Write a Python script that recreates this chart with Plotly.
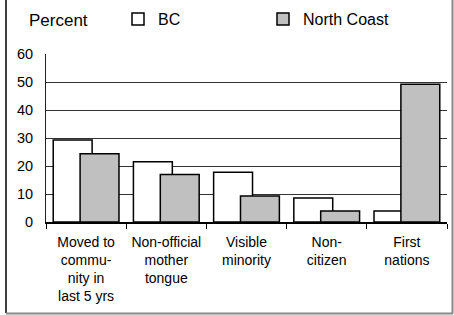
import plotly.graph_objects as go

categories = ["Moved to<br>commu-<br>nity in<br>last 5 yrs",
              "Non-official<br>mother<br>tongue",
              "Visible<br>minority",
              "Non-<br>citizen",
              "First<br>nations"]
bc_values = [29.3, 21.5, 17.8, 8.6, 3.9]
nc_values = [24.4, 17.0, 9.3, 3.9, 49.2]
y_ticks = [0, 10, 20, 30, 40, 50, 60]

W, H = 454, 315
ml, mr, mt, mb = 46, 7, 54, 93
pw, ph = W - ml - mr, H - mt - mb

def px(x):
    return (x - ml) / pw

def py(y):
    return (H - mb - y) / ph

fig = go.Figure()
fig.add_trace(go.Bar(x=categories, y=bc_values, name="BC",
                     marker=dict(color="white", line=dict(color="black", width=1.5)),
                     width=0.485, offset=-0.41))
fig.add_trace(go.Bar(x=categories, y=nc_values, name="North Coast",
                     marker=dict(color="#c0c0c0", line=dict(color="black", width=1.5)),
                     width=0.485, offset=-0.075))

font = "Liberation Sans, Arial, sans-serif"
fig.update_layout(
    width=W, height=H,
    margin=dict(l=ml, r=mr, t=mt, b=mb, autoexpand=False),
    paper_bgcolor="white", plot_bgcolor="white",
    barmode="overlay",
    font=dict(family=font, size=13, color="black"),
    showlegend=True,
    legend=dict(orientation="h", xref="container", yref="container",
                x=118 / W, y=1 - 19 / H, yanchor="middle", xanchor="left",
                entrywidth=100, entrywidthmode="pixels", itemwidth=30,
                font=dict(size=16), bgcolor="rgba(0,0,0,0)", traceorder="normal"),
    xaxis=dict(showline=True, linecolor="black", linewidth=1.5,
               ticks="outside", tickson="boundaries", ticklen=5, tickcolor="black",
               tickfont=dict(size=14), showgrid=False, automargin=False,
               ticklabelstandoff=6),
    yaxis=dict(range=[0, 60], tickvals=y_ticks, showline=True, linecolor="#222",
               linewidth=1, ticks="", ticklabelstandoff=9,
               showgrid=True, gridcolor="#333", gridwidth=1, automargin=False,
               tickfont=dict(size=14.5), zeroline=False),
    annotations=[dict(text="Percent", x=px(27), y=py(20), xref="paper", yref="paper",
                      xanchor="left", yanchor="middle", showarrow=False,
                      font=dict(size=17))],
    shapes=[
        dict(type="line", xref="paper", yref="paper", x0=px(6), x1=px(6), y0=py(0), y1=py(313),
             line=dict(color="black", width=1.5)),
        dict(type="line", xref="paper", yref="paper", x0=px(452.5), x1=px(452.5), y0=py(0), y1=py(313.5),
             line=dict(color="#888", width=2)),
        dict(type="line", xref="paper", yref="paper", x0=px(6), x1=px(453), y0=py(313.5), y1=py(313.5),
             line=dict(color="#888", width=2)),
    ],
)

fig.write_html("out.html", config={"displayModeBar": False},
               post_script="document.body.style.margin='0';document.body.style.overflow='hidden';")
